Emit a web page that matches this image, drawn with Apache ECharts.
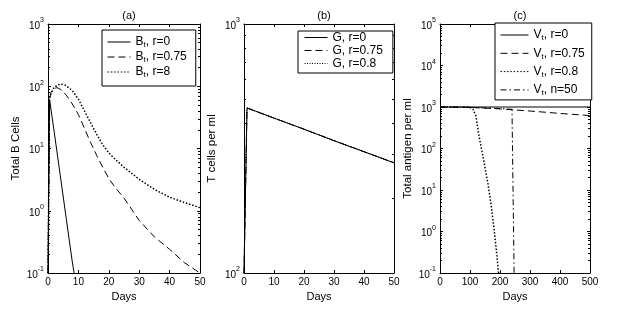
<!DOCTYPE html>
<html><head><meta charset="utf-8">
<script src="https://cdn.jsdelivr.net/npm/echarts@6/dist/echarts.min.js"></script>
<style>html,body{margin:0;padding:0;background:#fff}#c{width:618px;height:312px}</style>
</head><body><div id="c"></div>
<script>
// ---------- Panel (a): Total B cells ----------
const bR0Days  = [0, 0.5, 2, 4, 6, 8, 8.6];
const bR0      = [0.1, 62, 19, 3.8, 0.75, 0.15, 0.1];
const daysA    = [0, 0.5, 1, 2, 3, 4, 5, 6, 8, 10, 12, 14, 16, 18, 20, 22, 25, 30, 35, 40, 45, 50];
const bR075    = [0.1, 62, 80, 92, 95, 90, 82, 72, 52, 35, 21, 12.5, 7.8, 5, 3.3, 2.4, 1.6, 0.7, 0.38, 0.24, 0.145, 0.1];
const bR8      = [0.1, 62, 78, 95, 104, 108, 107, 102, 85, 62, 40, 26, 17, 11.5, 8.5, 6.8, 5, 3.2, 2.2, 1.65, 1.35, 1.12];
// ---------- Panel (b): T cells ----------
const daysB    = [0, 1, 10, 20, 30, 40, 50];
const gR0      = [100, 460, 419, 378, 340, 307, 277];
const gR075    = [100, 460, 419, 378, 340, 307, 277];
const gR08     = [100, 460, 419, 378, 340, 307, 277];
// ---------- Panel (c): Total antigen ----------
const vR0Days   = [0, 500];
const vR0       = [1000, 1000];
const vR075Days = [0, 100, 200, 300, 400, 500];
const vR075     = [1000, 980, 900, 800, 700, 620];
const vR08Days  = [0, 80, 100, 110, 120, 130, 140, 150, 160, 170, 180, 190, 195];
const vR08      = [1000, 1000, 970, 880, 600, 200, 85, 35, 14, 4.5, 1.2, 0.25, 0.1];
const vN50Days  = [0, 100, 200, 240, 246, 247];
const vN50      = [1000, 980, 920, 880, 860, 0.1];
// ---------- Axis ranges / labels ----------
const panelTitles = ['(a)', '(b)', '(c)'];
const yNames      = ['Total B Cells', 'T cells per ml', 'Total antigen per ml'];
const xName       = 'Days';
const xRanges     = [[0, 50, 10], [0, 50, 10], [0, 500, 100]];
const yRanges     = [[0.1, 1000], [100, 1000], [0.1, 100000]];

const FONT = 'Liberation Sans, Arial, Helvetica, sans-serif';
const grids = [
  {left: 48, top: 24, width: 152, height: 249},
  {left: 244, top: 24, width: 150, height: 249},
  {left: 440, top: 24, width: 150, height: 249}
];
function pairs(xs, ys) { return xs.map((x, i) => [x, ys[i]]); }
function minorValues(min, max) {
  const out = [];
  for (let d = Math.round(Math.log10(min)); d < Math.round(Math.log10(max)); d++) {
    for (let k = 2; k <= 9; k++) out.push(k * Math.pow(10, d));
  }
  return out;
}
const xAxes = [], yAxes = [];
grids.forEach((g, i) => {
  const [xmin, xmax, xint] = xRanges[i];
  const [ymin, ymax] = yRanges[i];
  const lineC = {show: true, onZero: false, lineStyle: {color: '#000', width: 1}};
  xAxes.push({
    type: 'value', gridIndex: i, min: xmin, max: xmax, interval: xint, position: 'bottom', offset: 0,
    name: xName, nameLocation: 'middle', nameGap: 15,
    nameTextStyle: {fontFamily: FONT, fontSize: 11, color: '#000'},
    axisLine: lineC, axisTick: {show: true, inside: true, length: 3, lineStyle: {color: '#000'}},
    axisLabel: {fontFamily: FONT, fontSize: 10, color: '#000', margin: 4},
    splitLine: {show: false}
  });
  xAxes.push({
    type: 'value', gridIndex: i, min: xmin, max: xmax, interval: xint, position: 'top', offset: 0,
    axisLine: lineC, axisTick: {show: true, inside: true, length: 3, lineStyle: {color: '#000'}},
    axisLabel: {show: false}, splitLine: {show: false}
  });
  const labelRich = {
    b: {fontFamily: FONT, fontSize: 10, color: '#000', padding: [4, 0, 0, 0], verticalAlign: 'bottom'},
    s: {fontFamily: FONT, fontSize: 7, color: '#000', lineHeight: 7, verticalAlign: 'top'}
  };
  yAxes.push({
    type: 'log', logBase: 10, gridIndex: i, min: ymin, max: ymax, interval: 1, position: 'left', offset: 0,
    name: yNames[i], nameLocation: 'middle', nameGap: 26,
    nameTextStyle: {fontFamily: FONT, fontSize: 11.5, color: '#000'},
    axisLine: lineC, axisTick: {show: true, inside: true, length: 3, lineStyle: {color: '#000'}},
    axisLabel: {
      margin: 4, rich: labelRich,
      formatter: v => '{b|10}{s|' + Math.round(Math.log10(v)) + '}'
    },
    splitLine: {show: false}
  });
  yAxes.push({
    type: 'log', logBase: 10, gridIndex: i, min: ymin, max: ymax, interval: 1, position: 'right', offset: 0,
    axisLine: lineC, axisTick: {show: true, inside: true, length: 3, lineStyle: {color: '#000'}},
    axisLabel: {show: false}, splitLine: {show: false}
  });
  ['left', 'right'].forEach(pos => {
    yAxes.push({
      type: 'log', logBase: 10, gridIndex: i, min: ymin, max: ymax, position: pos, offset: 0,
      axisLine: {show: false, onZero: false},
      axisTick: {show: true, inside: true, length: 2, customValues: minorValues(ymin, ymax), lineStyle: {color: '#000'}},
      axisLabel: {show: false}, splitLine: {show: false}
    });
  });
});

const S = {
  solid:   {type: 'solid', width: 1},
  dashed:  {type: [7, 4], width: 1},
  dotted:  {type: [1.5, 1.8], width: 1.5},
  dashdot: {type: [6, 3, 1.5, 3], width: 1}
};
function line(name, p, data, style) {
  return {
    type: 'line', name, xAxisIndex: p * 2, yAxisIndex: p * 4, data,
    symbol: 'none', symbolSize: 0, showSymbol: false, color: '#000',
    lineStyle: Object.assign({color: '#000'}, style), clip: true, animation: false
  };
}
const series = [
  line('B_t, r=0', 0, pairs(bR0Days, bR0), S.solid),
  line('B_t, r=0.75', 0, pairs(daysA, bR075), S.dashed),
  line('B_t, r=8', 0, pairs(daysA, bR8), S.dotted),
  line('G, r=0', 1, pairs(daysB, gR0), S.solid),
  line('G, r=0.75', 1, pairs(daysB, gR075), S.dashed),
  line('G, r=0.8', 1, pairs(daysB, gR08), {type: [1, 1.5], width: 1}),
  line('V_t, r=0', 2, pairs(vR0Days, vR0), S.solid),
  line('V_t, r=0.75', 2, pairs(vR075Days, vR075), S.dashed),
  line('V_t, r=0.8', 2, pairs(vR08Days, vR08), S.dotted),
  line('V_t, n=50', 2, pairs(vN50Days, vN50), S.dashdot)
];
const legRich = {
  sub: {fontFamily: FONT, fontSize: 8, color: '#000', lineHeight: 8, verticalAlign: 'bottom'}
};
function legend(names, left, top, lh, gap, iw, pad) {
  return {
    data: names, orient: 'vertical', left, top, itemGap: gap, itemWidth: iw, itemHeight: 10,
    padding: pad, borderColor: '#000', borderWidth: 1, backgroundColor: '#fff', borderRadius: 0,
    selectedMode: false,
    itemStyle: {opacity: 0, borderWidth: 0},
    lineStyle: {width: 1},
    formatter: n => n.replace('_t', '{sub|t}'),
    textStyle: {fontFamily: FONT, fontSize: 12, color: '#000', lineHeight: lh, rich: legRich}
  };
}
const option = {
  backgroundColor: '#fff',
  animation: false,
  title: panelTitles.map((t, i) => ({
    text: t, left: grids[i].left + grids[i].width / 2, top: 5, textAlign: 'center',
    textStyle: {fontFamily: FONT, fontSize: 11, fontWeight: 'normal', color: '#000'}
  })),
  grid: grids,
  xAxis: xAxes,
  yAxis: yAxes,
  legend: [
    legend(['B_t, r=0', 'B_t, r=0.75', 'B_t, r=8'], 102, 30, 14, 1, 23, [5, 9, 7, 5]),
    legend(['G, r=0', 'G, r=0.75', 'G, r=0.8'], 298, 31, 13, 0, 23, [0, 10, 3, 6]),
    legend(['V_t, r=0', 'V_t, r=0.75', 'V_t, r=0.8', 'V_t, n=50'], 495, 23, 14, 4.3, 28, [5, 7, 3, 5])
  ],
  series
};
const chart = echarts.init(document.getElementById('c'), null, {renderer: 'canvas'});
chart.setOption(option);
</script></body></html>
